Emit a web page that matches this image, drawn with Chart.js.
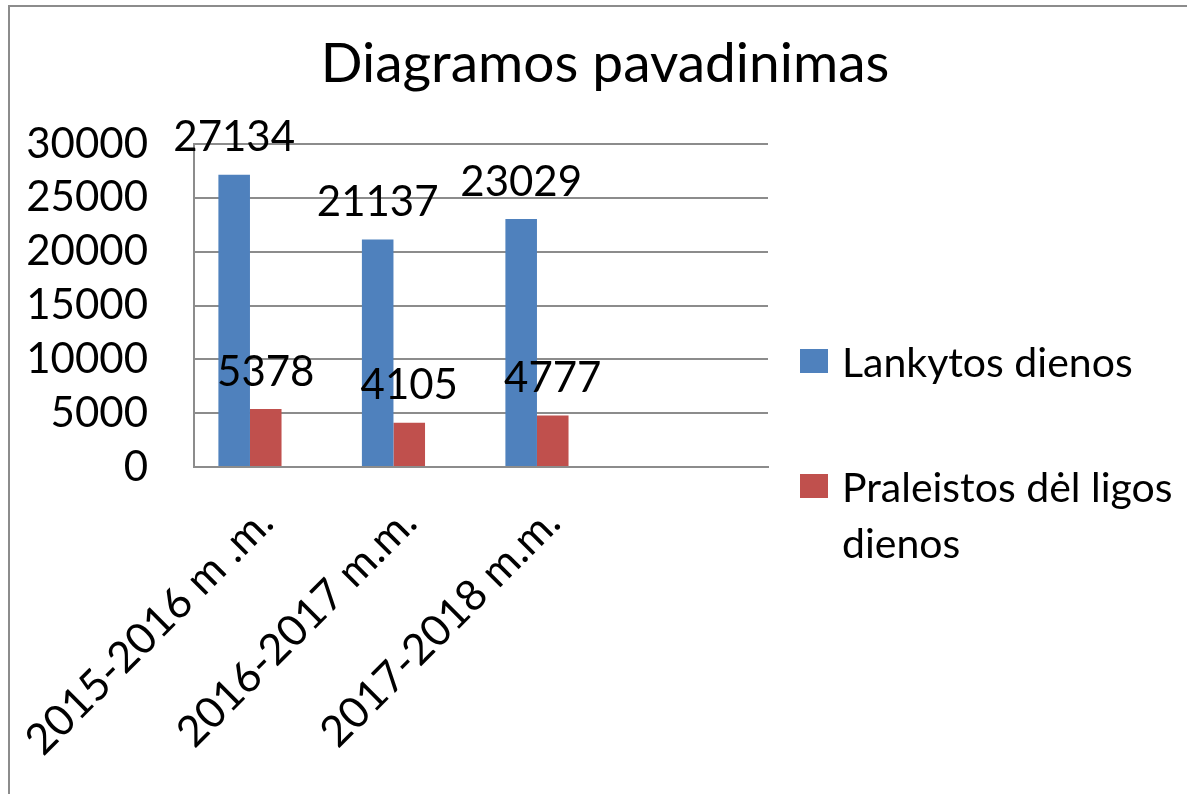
<!DOCTYPE html>
<html>
<head>
<meta charset="utf-8">
<script src="https://cdn.jsdelivr.net/npm/chart.js"></script>
<style>
  html, body { margin: 0; padding: 0; overflow: hidden; background: #fff; }
  #wrap { position: relative; width: 1187px; height: 794px; }
  #frame { position: absolute; left: 8px; top: 5px; width: 1200px; height: 800px;
           border: 2px solid #8c8c8c; pointer-events: none; }
  #title { position: absolute; left: 0; width: 1210px; top: 28px; text-align: center;
           font-family: Lato, sans-serif; font-size: 55px; line-height: 66px; color: #000; }
  #legend { position: absolute; left: 800px; top: 0; font-family: Lato, sans-serif;
            font-size: 41px; color: #000; }
  .item { position: absolute; left: 0; white-space: nowrap; }
  .box { position: absolute; left: 0; width: 28px; height: 24px; }
  .txt { position: absolute; left: 42px; line-height: 56px; }
</style>
</head>
<body>
<div id="wrap">
  <canvas id="c" width="1187" height="794"></canvas>
  <div id="title">Diagramos pavadinimas</div>
  <div id="legend"></div>
  <div id="frame"></div>
</div>
<script>
const categories = ['2015-2016 m .m.', '2016-2017 m.m.', '2017-2018 m.m.', ''];
const attended = [27134, 21137, 23029, null];
const missedIll = [5378, 4105, 4777, null];
const emptySeries = [null, null, null, null];
const yTicks = { min: 0, max: 30000, step: 5000 };

const blue = '#4f81bd';
const red = '#c0504d';
const grey = '#8c8c8c';

// value labels above each bar
const valueLabels = {
  id: 'valueLabels',
  afterDatasetsDraw(chart){
    const ctx = chart.ctx;
    ctx.save();
    ctx.font = '42px Lato';
    ctx.fillStyle = '#000';
    ctx.textAlign = 'center';
    ctx.textBaseline = 'middle';
    chart.data.datasets.forEach((ds, i) => {
      const meta = chart.getDatasetMeta(i);
      meta.data.forEach((el, j) => {
        const v = ds.data[j];
        if(v == null) return;
        ctx.fillText(String(v), el.x, el.y - 37);
      });
    });
    ctx.restore();
  }
};

function buildLegend(chart){
  const box = document.getElementById('legend');
  const tops = [334, 459];
  chart.data.datasets.forEach((ds, i) => {
    if(!ds.label) return;
    const item = document.createElement('div');
    item.className = 'item';
    item.style.top = tops[i] + 'px';
    const sw = document.createElement('div');
    sw.className = 'box';
    sw.style.background = ds.backgroundColor;
    sw.style.top = '15px';
    const t = document.createElement('div');
    t.className = 'txt';
    t.innerHTML = ds.label.replace(' dienos', i === 1 ? '<br>dienos' : ' dienos');
    item.appendChild(sw);
    item.appendChild(t);
    box.appendChild(item);
  });
}

function draw(){
  Chart.defaults.font.family = 'Lato';
  Chart.defaults.color = '#000';
  const chart = new Chart(document.getElementById('c'), {
    type: 'bar',
    data: {
      labels: categories,
      datasets: [
        { label: 'Lankytos dienos', data: attended, backgroundColor: blue },
        { label: 'Praleistos dėl ligos dienos', data: missedIll, backgroundColor: red },
        { label: '', data: emptySeries, backgroundColor: '#9bbb59' }
      ]
    },
    options: {
      responsive: false,
      animation: false,
      datasets: { bar: { categoryPercentage: 0.66, barPercentage: 1 } },
      layout: { padding: { left: 24, right: 419, top: 144, bottom: 0 } },
      plugins: {
        legend: { display: false },
        tooltip: { enabled: false },
        title: { display: false }
      },
      scales: {
        x: {
          grid: { display: false, drawTicks: false },
          border: { display: true, color: grey, width: 2 },
          ticks: { font: { size: 43 }, minRotation: 45, maxRotation: 45, autoSkip: false, padding: 30 },
          afterFit(s){ s.height = 327; s.paddingLeft = 0; s.paddingRight = 0; }
        },
        y: {
          min: yTicks.min, max: yTicks.max,
          grid: { color: grey, lineWidth: 2, drawTicks: false },
          border: { display: true, color: grey, width: 2 },
          ticks: { stepSize: yTicks.step, font: { size: 42 }, padding: 46, callback: v => String(v) },
          afterFit(s){ s.width = 170; s.paddingTop = 0; s.paddingBottom = 0; }
        }
      }
    },
    plugins: [valueLabels]
  });
  buildLegend(chart);
}

if(document.fonts && document.fonts.load){
  document.fonts.load('40px Lato').then(draw, draw);
} else {
  draw();
}
</script>
</body>
</html>
